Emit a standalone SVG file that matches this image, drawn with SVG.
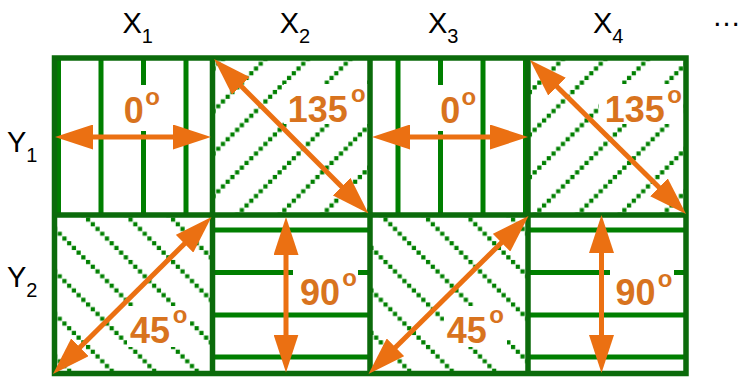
<svg xmlns="http://www.w3.org/2000/svg" width="743" height="377" viewBox="0 0 743 377">
<style>
.bd{stroke:#0B6B0B;stroke-width:5.5;fill:none}
.ln{stroke:#007F00;stroke-width:5}
.bg{fill:#fff}
.deg{font-family:"Liberation Sans",Arial,sans-serif;font-weight:bold;font-size:36px;fill:#D8731E;text-anchor:middle}
.deg .s{font-size:24px}
.lbl{font-family:"Liberation Sans",Arial,sans-serif;font-size:29px;fill:#000}
.lbl .sub{font-size:20px}
.ar{stroke:#EB7012;stroke-width:5;fill:none;marker-start:url(#ah);marker-end:url(#ah)}
.dot{fill:#007F00}
</style>
<defs>
<marker id="ah" markerUnits="userSpaceOnUse" viewBox="0 0 38 25" markerWidth="38" markerHeight="25" refX="28" refY="12.5" orient="auto-start-reverse">
<path d="M0,0L38,12.5L0,25z" fill="#EB7012"/>
</marker>
<pattern id="pd1" patternUnits="userSpaceOnUse" x="27" y="0" width="42.5" height="42.5">
<path class="dot" d="M0.26 38.04h4.2v4.2h-4.2z M4.98 33.32h4.2v4.2h-4.2z M9.71 28.59h4.2v4.2h-4.2z M14.43 23.87h4.2v4.2h-4.2z M19.15 19.15h4.2v4.2h-4.2z M23.87 14.43h4.2v4.2h-4.2z M28.59 9.71h4.2v4.2h-4.2z M33.32 4.98h4.2v4.2h-4.2z M38.04 0.26h4.2v4.2h-4.2z"/>
</pattern>
<pattern id="pd2" patternUnits="userSpaceOnUse" x="38.5" y="0" width="42.5" height="42.5">
<path class="dot" d="M0.26 0.26h4.2v4.2h-4.2z M4.98 4.98h4.2v4.2h-4.2z M9.71 9.71h4.2v4.2h-4.2z M14.43 14.43h4.2v4.2h-4.2z M19.15 19.15h4.2v4.2h-4.2z M23.87 23.87h4.2v4.2h-4.2z M28.59 28.59h4.2v4.2h-4.2z M33.32 33.32h4.2v4.2h-4.2z M38.04 38.04h4.2v4.2h-4.2z"/>
</pattern>
</defs>
<rect width="743" height="377" fill="#fff"/>

<g id="label-x1" class="lbl"><text x="122.4" y="33">X<tspan class="sub" dy="10">1</tspan></text></g>
<g id="label-x2" class="lbl"><text x="279.7" y="33">X<tspan class="sub" dy="10">2</tspan></text></g>
<g id="label-x3" class="lbl"><text x="428" y="33">X<tspan class="sub" dy="10">3</tspan></text></g>
<g id="label-x4" class="lbl"><text x="593" y="33">X<tspan class="sub" dy="10">4</tspan></text></g>
<g id="label-more" class="lbl"><text x="712" y="26">…</text></g>
<g id="label-y1" class="lbl"><text x="7" y="152">Y<tspan class="sub" dy="10">1</tspan></text></g>
<g id="label-y2" class="lbl"><text x="7" y="287">Y<tspan class="sub" dy="10">2</tspan></text></g>

<g id="cell-x1-y1">
<g class="ln"><line x1="58.5" y1="58" x2="58.5" y2="215"/><line x1="101" y1="58" x2="101" y2="215"/><line x1="143.5" y1="58" x2="143.5" y2="215"/><line x1="186" y1="58" x2="186" y2="215"/></g>
<rect class="bg" x="117" y="85" width="45" height="46"/>
<text class="deg"><tspan x="133.7" y="123.3">0</tspan><tspan class="s" x="152.5" y="104.7">o</tspan></text>
</g>
<g id="cell-x2-y1">
<rect x="212.5" y="58" width="157.5" height="157" fill="url(#pd1)"/>
<rect class="bg" x="284" y="84" width="84" height="40"/>
<text class="deg"><tspan x="317.8" y="121.7">135</tspan><tspan class="s" x="358.3" y="101.5">o</tspan></text>
</g>
<g id="cell-x3-y1">
<g class="ln"><line x1="398" y1="58" x2="398" y2="215"/><line x1="440.5" y1="58" x2="440.5" y2="215"/><line x1="483" y1="58" x2="483" y2="215"/><line x1="525.5" y1="58" x2="525.5" y2="215"/></g>
<rect class="bg" x="432" y="85" width="48" height="46"/>
<text class="deg"><tspan x="450.3" y="123.3">0</tspan><tspan class="s" x="468.8" y="105">o</tspan></text>
</g>
<g id="cell-x4-y1">
<rect x="528" y="58" width="158" height="157" fill="url(#pd1)"/>
<rect class="bg" x="599" y="84" width="84" height="40"/>
<text class="deg"><tspan x="634.7" y="121.7">135</tspan><tspan class="s" x="674.5" y="102.5">o</tspan></text>
</g>
<g id="cell-x1-y2">
<rect x="54.5" y="215" width="158" height="158.5" fill="url(#pd2)"/>
<rect class="bg" x="127" y="306" width="63" height="41"/>
<text class="deg"><tspan x="150" y="343.3">45</tspan><tspan class="s" x="180" y="323.3">o</tspan></text>
</g>
<g id="cell-x2-y2">
<g class="ln"><line x1="212.5" y1="230" x2="370" y2="230"/><line x1="212.5" y1="272.5" x2="370" y2="272.5"/><line x1="212.5" y1="315" x2="370" y2="315"/><line x1="212.5" y1="357" x2="370" y2="357"/></g>
<rect class="bg" x="293" y="265" width="65" height="44"/>
<text class="deg"><tspan x="320" y="305">90</tspan><tspan class="s" x="349.7" y="286">o</tspan></text>
</g>
<g id="cell-x3-y2">
<rect x="370" y="215" width="158" height="158.5" fill="url(#pd2)"/>
<rect class="bg" x="444" y="306" width="63" height="41"/>
<text class="deg"><tspan x="466.7" y="343.3">45</tspan><tspan class="s" x="496.7" y="323">o</tspan></text>
</g>
<g id="cell-x4-y2">
<g class="ln"><line x1="528" y1="230" x2="686" y2="230"/><line x1="528" y1="272.5" x2="686" y2="272.5"/><line x1="528" y1="315" x2="686" y2="315"/><line x1="528" y1="357" x2="686" y2="357"/></g>
<rect class="bg" x="610" y="265" width="64" height="44"/>
<text class="deg"><tspan x="635.5" y="305">90</tspan><tspan class="s" x="665" y="286.5">o</tspan></text>
</g>

<g id="grid">
<path class="bd" d="M54.5 58H686V373.5H54.5Z M212.5 58V373.5 M370 58V373.5 M528 58V373.5 M54.5 215H686"/>
</g>

<g id="arrows">
<line class="ar" x1="65" y1="137" x2="201" y2="137"/>
<line class="ar" x1="221.1" y1="66.1" x2="361.4" y2="206.4"/>
<line class="ar" x1="382" y1="137" x2="518" y2="137"/>
<line class="ar" x1="537.1" y1="67" x2="678.9" y2="207"/>
<line class="ar" x1="60.1" y1="367" x2="204.4" y2="224"/>
<line class="ar" x1="286" y1="227" x2="286" y2="362.5"/>
<line class="ar" x1="375.6" y1="367" x2="521.4" y2="223"/>
<line class="ar" x1="601.5" y1="225" x2="601.5" y2="363"/>
</g>
</svg>
